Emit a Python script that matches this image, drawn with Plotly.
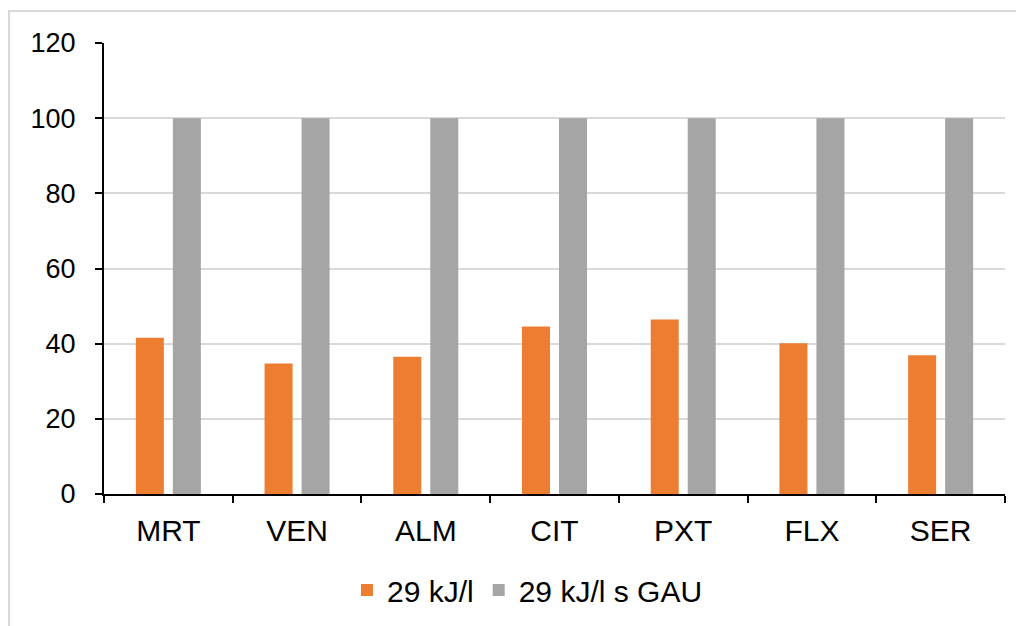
import plotly.graph_objects as go

categories = ["MRT", "VEN", "ALM", "CIT", "PXT", "FLX", "SER"]
series1_name = "29 kJ/l"
series1_values = [41.6, 34.7, 36.5, 44.6, 46.4, 40.1, 36.9]
series2_name = "29 kJ/l s GAU"
series2_values = [100, 100, 100, 100, 100, 100, 100]
y_ticks = [0, 20, 40, 60, 80, 100, 120]

fig = go.Figure()
fig.add_trace(go.Bar(x=categories, y=series1_values, name=series1_name,
                     marker=dict(color="#ED7D31", line=dict(width=0))))
fig.add_trace(go.Bar(x=categories, y=series2_values, name=series2_name,
                     marker=dict(color="#A5A5A5", line=dict(width=0))))

W, H = 1008, 618
L, R, T, B = 96, 11, 35, 132
pw, ph = W - L - R, H - T - B

fig.update_layout(
    width=W, height=H,
    margin=dict(l=L, r=R, t=T, b=B, autoexpand=False),
    paper_bgcolor="white", plot_bgcolor="white",
    barmode="group", bargap=0.425, bargroupgap=0.243,
    font=dict(family="Liberation Sans, Arial, sans-serif", color="#000000", size=27),
    showlegend=True,
    legend=dict(orientation="h", x=0.47, xanchor="center", y=(486 - 582) / ph, yanchor="middle",
                font=dict(size=30), itemsizing="constant", traceorder="normal",
                itemwidth=30),
    xaxis=dict(showline=True, linecolor="black", linewidth=2, ticks="outside",
               tickson="boundaries", ticklen=7, tickwidth=2, tickcolor="black",
               tickfont=dict(size=30), showgrid=False, ticklabelstandoff=9),
    yaxis=dict(range=[0, 120], tickvals=y_ticks, showline=True, linecolor="black",
               linewidth=2, ticks="outside", ticklen=7, tickwidth=2, tickcolor="black",
               showgrid=True, gridcolor="#d9d9d9", gridwidth=2, zeroline=False,
               tickfont=dict(size=27), ticklabelstandoff=14),
    shapes=[dict(type="rect", xref="paper", yref="paper",
                 x0=(1 - L) / pw, x1=(1030 - L) / pw,
                 y0=(486 - 640) / ph, y1=(486 - 3) / ph,
                 line=dict(color="#d9d9d9", width=2), fillcolor="rgba(0,0,0,0)",
                 layer="below")],
)

fig.write_html("out.html")
